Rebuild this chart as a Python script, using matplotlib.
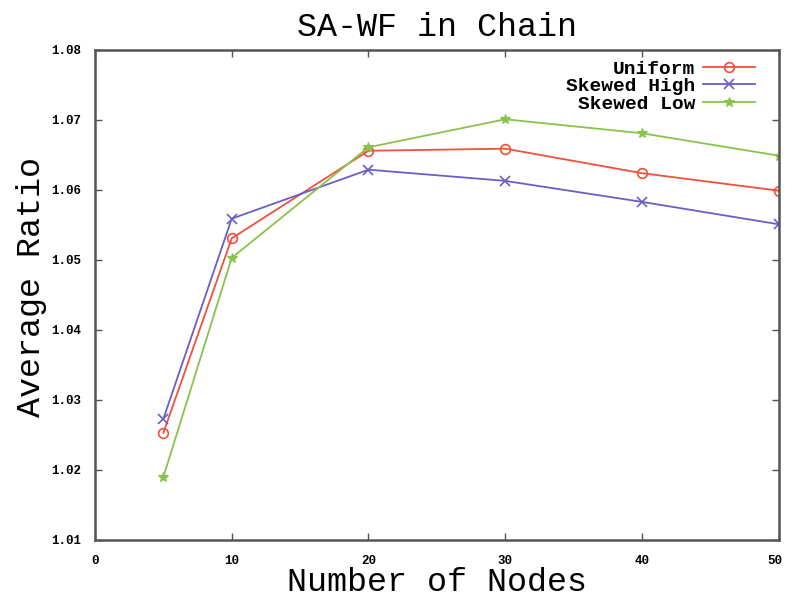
import matplotlib
matplotlib.use("Agg")
import matplotlib.pyplot as plt
import matplotlib.transforms as mtransforms

nodes = [5, 10, 20, 30, 40, 50]
uniform = [1.0253, 1.0531, 1.0656, 1.0659, 1.0624, 1.0599]
skewed_high = [1.0273, 1.0559, 1.0629, 1.0613, 1.0583, 1.0551]
skewed_low = [1.0190, 1.0503, 1.0661, 1.0701, 1.0681, 1.0649]

xticks = [0, 10, 20, 30, 40, 50]
yticks = [1.01, 1.02, 1.03, 1.04, 1.05, 1.06, 1.07, 1.08]

mono = "Liberation Mono"
fig = plt.figure(figsize=(7.85, 6.02), dpi=100)
ax = fig.add_axes([0.121, 0.103, 0.871, 0.814])

ax.plot(nodes, uniform, color="#f0503c", lw=1.3, marker="o", ms=7,
        mfc="none", mec="#f0503c", mew=1.2, label="Uniform")
ax.plot(nodes, skewed_high, color="#6a5ec8", lw=1.3, marker="x", ms=7,
        mew=1.2, label="Skewed High")
ax.plot(nodes, skewed_low, color="#88c44a", lw=1.3, marker="*", ms=7,
        mew=0.8, label="Skewed Low")

ax.set_xlim(0, 50)
ax.set_ylim(1.01, 1.08)
ax.set_xticks(xticks)
ax.set_yticks(yticks)
ax.set_xticklabels([str(t) for t in xticks], fontfamily=mono, fontweight="bold", fontsize=9)
ax.set_yticklabels([f"{t:.2f}" for t in yticks], fontfamily=mono, fontweight="bold", fontsize=9)
ax.tick_params(direction="in", length=5, width=1, color="#555555",
               top=True, right=True)
ax.tick_params(axis="x", pad=11)
ax.tick_params(axis="y", pad=10)
for s in ax.spines.values():
    s.set_color("#555555")
    s.set_linewidth(1.8)

# nudge the last x tick label so it stays inside the figure
last = ax.get_xticklabels()[-1]
last.set_transform(last.get_transform() +
                   mtransforms.ScaledTranslation(-4 / 100, 0, fig.dpi_scale_trans))

fig.text(437 / 785, 1 - 27 / 602, "SA-WF in Chain", fontfamily=mono,
         fontsize=24, ha="center", va="center")
ax.set_xlabel("Number of Nodes", fontfamily=mono, fontsize=24, labelpad=0)
ax.set_ylabel("Average Ratio", fontfamily=mono, fontsize=24)
ax.yaxis.set_label_coords(-0.070, 0.516)

leg = ax.legend(loc="upper right", frameon=False, markerfirst=False,
                prop={"family": mono, "weight": "bold", "size": 14},
                labelspacing=0.0, handlelength=2.7, handletextpad=0.36,
                borderaxespad=0.0, borderpad=0.0,
                bbox_to_anchor=(755 / 785, 1 - 60 / 602),
                bbox_transform=fig.transFigure)
leg._legend_box.align = "right"

fig.savefig("out.png", dpi=100, facecolor="white")
